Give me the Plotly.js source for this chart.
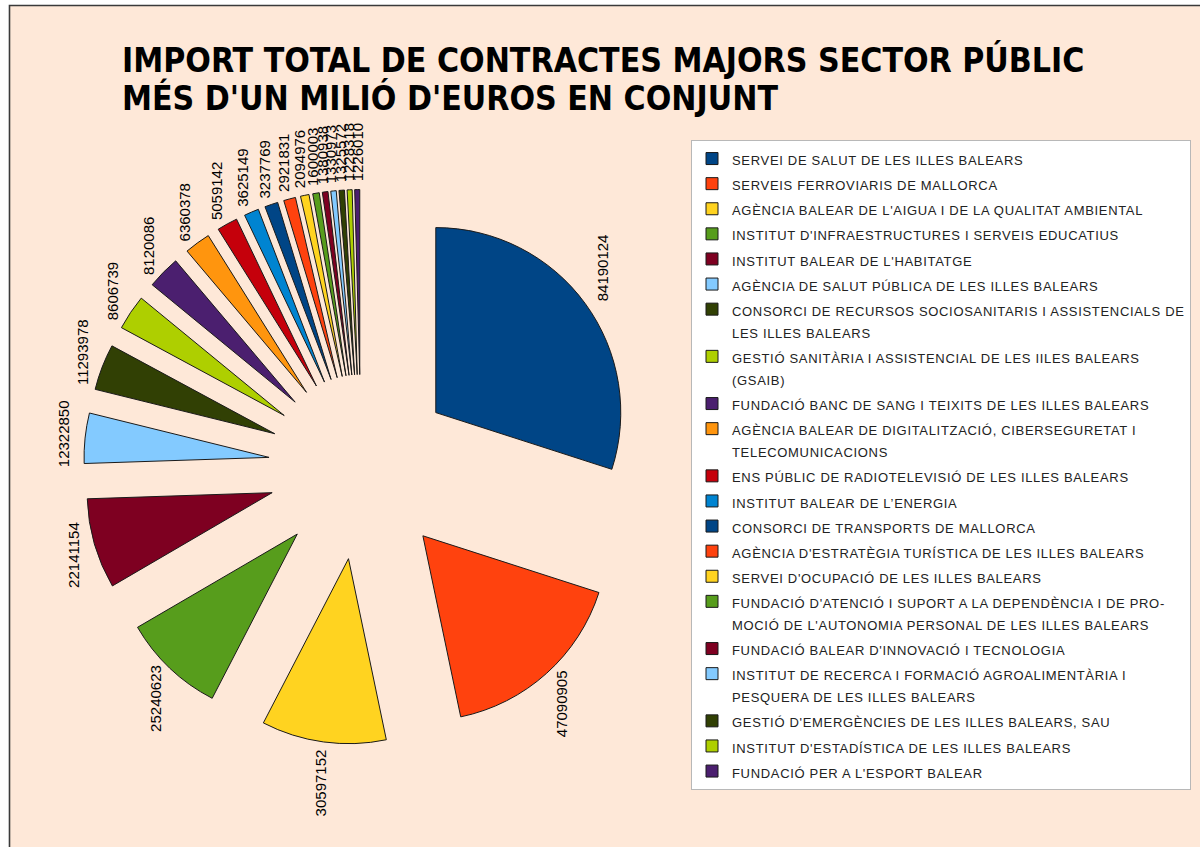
<!DOCTYPE html>
<html>
<head>
<meta charset="utf-8">
<script src="https://cdn.plot.ly/plotly-3.0.1.min.js"></script>
<style>html,body{margin:0;padding:0;background:#fff;}#chart{width:1200px;height:847px;}</style>
</head>
<body>
<div id="chart"></div>
<script>
// ---- DATA ----
const titleLines = [
  "IMPORT TOTAL DE CONTRACTES MAJORS SECTOR PÚBLIC",
  "MÉS D'UN MILIÓ D'EUROS EN CONJUNT"
];
const categories = [
  ["SERVEI DE SALUT DE LES ILLES BALEARS"],
  ["SERVEIS FERROVIARIS DE MALLORCA"],
  ["AGÈNCIA BALEAR DE L'AIGUA I DE LA QUALITAT AMBIENTAL"],
  ["INSTITUT D'INFRAESTRUCTURES I SERVEIS EDUCATIUS"],
  ["INSTITUT BALEAR DE L'HABITATGE"],
  ["AGÈNCIA DE SALUT PÚBLICA DE LES ILLES BALEARS"],
  ["CONSORCI DE RECURSOS SOCIOSANITARIS I ASSISTENCIALS DE", "LES ILLES BALEARS"],
  ["GESTIÓ SANITÀRIA I ASSISTENCIAL DE LES IILES BALEARS", "(GSAIB)"],
  ["FUNDACIÓ BANC DE SANG I TEIXITS DE LES ILLES BALEARS"],
  ["AGÈNCIA BALEAR DE DIGITALITZACIÓ, CIBERSEGURETAT I", "TELECOMUNICACIONS"],
  ["ENS PÚBLIC DE RADIOTELEVISIÓ DE LES ILLES BALEARS"],
  ["INSTITUT BALEAR DE L’ENERGIA"],
  ["CONSORCI DE TRANSPORTS DE MALLORCA"],
  ["AGÈNCIA D'ESTRATÈGIA TURÍSTICA DE LES ILLES BALEARS"],
  ["SERVEI D'OCUPACIÓ DE LES ILLES BALEARS"],
  ["FUNDACIÓ D'ATENCIÓ I SUPORT A LA DEPENDÈNCIA I DE PRO-", "MOCIÓ DE L'AUTONOMIA PERSONAL DE LES ILLES BALEARS"],
  ["FUNDACIÓ BALEAR D'INNOVACIÓ I TECNOLOGIA"],
  ["INSTITUT DE RECERCA I FORMACIÓ AGROALIMENTÀRIA I", "PESQUERA DE LES ILLES BALEARS"],
  ["GESTIÓ D'EMERGÈNCIES DE LES ILLES BALEARS, SAU"],
  ["INSTITUT D'ESTADÍSTICA DE LES ILLES BALEARS"],
  ["FUNDACIÓ PER A L'ESPORT BALEAR"]
];
const values = [84190124, 47090905, 30597152, 25240623, 22141154, 12322850, 11293978,
  8606739, 8120086, 6360378, 5059142, 3625149, 3237769, 2921831, 2094976, 1600003,
  1380938, 1330973, 1325572, 1228318, 1226010];
const palette = ["#004586","#ff420e","#ffd320","#579d1c","#7e0021","#83caff",
  "#314004","#aecf00","#4b1f6f","#ff950e","#c5000b","#0084d1"];

// ---- STYLE / LAYOUT ----
const W = 1200, H = 847;
const bg = "#fee8d8";
const domain = {x: [0.0696, 0.5321], y: [0.1210, 0.7762]};
const pull = 0.5;
const legSpan = 'font-size:13px;letter-spacing:0.68px';
const labelFont = {family: "Liberation Sans, Arial, sans-serif", size: 15, color: "#000"};

const colors = values.map((v, i) => palette[i % palette.length]);
const labels = categories.map(lines =>
  lines.map(l => '<span style="' + legSpan + '">' + l + '</span>').join('<br>'));

// geometry of the pie as plotly computes it (for outside rotated value labels)
const boxW = W * (domain.x[1] - domain.x[0]);
const boxH = H * (domain.y[1] - domain.y[0]);
const r = Math.min(boxW, boxH) / 2 / (1 + pull);
const cx = W * (domain.x[0] + domain.x[1]) / 2;
const cy = H * (1 - domain.y[0]) - boxH / 2;
const total = values.reduce((a, b) => a + b, 0);
const annotations = [];
let cum = 0;
values.forEach((v, i) => {
  const a0 = cum / total * 2 * Math.PI; cum += v;
  const a1 = cum / total * 2 * Math.PI;
  const mid = (a0 + a1) / 2;
  const sx = Math.sin(mid), sy = -Math.cos(mid);
  const rout = r * (1 + pull) + 8;
  const txt = String(v);
  const L = txt.length * 0.556 * labelFont.size;
  const hw = labelFont.size * 0.45 + 7;
  const px = cx + rout * sx + sx * hw;
  const py = cy + rout * sy + sy * L / 2 - 25 * Math.max(sx, 0) * Math.max(-sy, 0);
  annotations.push({
    text: txt, x: px / W, y: 1 - py / H, xref: 'paper', yref: 'paper',
    xanchor: 'center', yanchor: 'middle', showarrow: false, textangle: -90,
    font: labelFont
  });
});

const trace = {
  type: 'pie',
  labels: labels,
  values: values,
  sort: false,
  direction: 'clockwise',
  rotation: 0,
  pull: pull,
  domain: domain,
  textinfo: 'none',
  hoverinfo: 'none',
  marker: {colors: colors, line: {color: '#1a1a1a', width: 1}}
};

const layout = {
  width: W, height: H,
  margin: {l: 0, r: 0, t: 0, b: 0},
  paper_bgcolor: '#ffffff',
  showlegend: true,
  title: {
    text: titleLines.map(t => '<span style="font-size:33.5px">' + t + '</span>').join('<br>'),
    font: {family: "DejaVu Sans Condensed, DejaVu Sans, sans-serif", size: 29, color: '#000', weight: 700},
    x: 122 / W, xanchor: 'left', xref: 'paper',
    y: 1 - 72 / H, yanchor: 'top', yref: 'container'
  },
  legend: {
    x: 691 / W, xanchor: 'left', y: 1 - 140 / H, yanchor: 'top',
    bgcolor: '#ffffff', bordercolor: '#b8b8b8', borderwidth: 1,
    font: {family: "Liberation Sans, Arial, sans-serif", size: 17, color: '#222'},
    valign: 'top', traceorder: 'normal'
  },
  shapes: [{
    type: 'rect', xref: 'paper', yref: 'paper', layer: 'below',
    x0: 9.5 / W, x1: 1.05, y0: -0.05, y1: 1 - 5.5 / H,
    fillcolor: bg, line: {color: '#3a3a3a', width: 1.6}
  }],
  annotations: annotations
};

Plotly.newPlot('chart', [trace], layout, {displayModeBar: false, staticPlot: true});
</script>
</body>
</html>
